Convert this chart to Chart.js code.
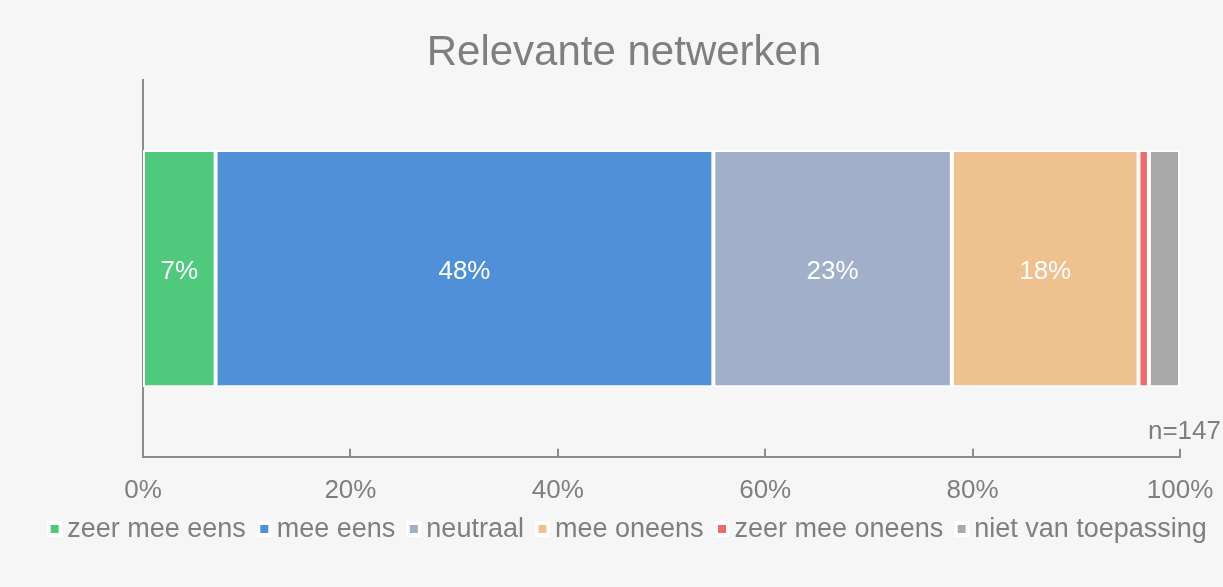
<!DOCTYPE html>
<html>
<head>
<meta charset="utf-8">
<script src="https://cdn.jsdelivr.net/npm/chart.js@4"></script>
<style>
  html, body { margin: 0; padding: 0; background: #f6f6f6; }
  #wrap { width: 1223px; height: 587px; }
</style>
</head>
<body>
<div id="wrap"><canvas id="chart" width="1223" height="587"></canvas></div>
<script>
const categories = ['Relevante netwerken'];
const seriesNames = ['zeer mee eens', 'mee eens', 'neutraal', 'mee oneens', 'zeer mee oneens', 'niet van toepassing'];
const seriesValues = [7, 48, 23, 18, 1, 3];
const seriesColors = ['#4fc97c', '#4f90d8', '#a2afc9', '#efc18e', '#ef6b6b', '#a9a9a9'];
const xTicks = [0, 20, 40, 60, 80, 100];
const sampleSize = 'n=147';

const textColor = '#7f7f7f';
const axisColor = '#8c8c8c';
const fontFamily = '"Liberation Sans", Arial, sans-serif';

// labels in the bars, small inside ticks, n label and the legend row
const extras = {
    id: 'extras',
    beforeDraw(chart) {
        const ctx = chart.ctx;
        ctx.save();
        ctx.fillStyle = '#f6f6f6';
        ctx.fillRect(0, 0, chart.width, chart.height);
        ctx.restore();
    },
    afterDatasetsDraw(chart) {
        const ctx = chart.ctx;
        ctx.save();
        ctx.font = '26px ' + fontFamily;
        ctx.fillStyle = '#ffffff';
        ctx.textAlign = 'center';
        ctx.textBaseline = 'middle';
        chart.data.datasets.forEach((ds, i) => {
            const meta = chart.getDatasetMeta(i);
            meta.data.forEach((bar, j) => {
                const v = ds.data[j];
                if (v < 5) return;
                const p = bar.getProps(['x', 'y', 'base'], true);
                ctx.fillText(v + '%', (p.x + p.base) / 2, p.y + 3);
            });
        });
        ctx.restore();
    },
    afterDraw(chart) {
        const ctx = chart.ctx;
        const xs = chart.scales.x;
        const area = chart.chartArea;
        ctx.save();
        ctx.strokeStyle = axisColor;
        ctx.lineWidth = 2;
        xTicks.slice(1).forEach(t => {
            const px = Math.round(xs.getPixelForValue(t));
            ctx.beginPath();
            ctx.moveTo(px, area.bottom);
            ctx.lineTo(px, area.bottom - 8);
            ctx.stroke();
        });
        ctx.font = '26px ' + fontFamily;
        ctx.fillStyle = textColor;
        ctx.textAlign = 'right';
        ctx.textBaseline = 'middle';
        ctx.fillText(sampleSize, 1221, area.bottom - 25);

        // legend
        ctx.font = '27px ' + fontFamily;
        ctx.textAlign = 'left';
        const cy = 529;
        const widths = seriesNames.map(n => ctx.measureText(n).width);
        const total = widths.reduce((a, w) => a + 20 + w, 0) + 11 * (seriesNames.length - 1);
        let x = 627 - total / 2;
        seriesNames.forEach((name, i) => {
            ctx.fillStyle = '#ffffff';
            ctx.beginPath();
            ctx.roundRect(x, cy - 8, 15, 16, 2);
            ctx.fill();
            ctx.fillStyle = seriesColors[i];
            ctx.fillRect(x + 3.5, cy - 4, 8, 8);
            ctx.fillStyle = textColor;
            ctx.fillText(name, x + 20, cy + 1);
            x += 20 + widths[i] + 11;
        });
        ctx.restore();
    }
};

new Chart(document.getElementById('chart'), {
    type: 'bar',
    data: {
        labels: categories,
        datasets: seriesNames.map((name, i) => ({
            label: name,
            data: [seriesValues[i]],
            backgroundColor: seriesColors[i],
            borderColor: '#ffffff',
            borderWidth: 2,
            borderSkipped: false,
            categoryPercentage: 0.63,
            barPercentage: 1
        }))
    },
    options: {
        indexAxis: 'y',
        responsive: false,
        animation: false,
        layout: { padding: { left: 25, right: 0, top: 0, bottom: 71 } },
        scales: {
            x: {
                stacked: true,
                min: 0,
                max: 100,
                afterBuildTicks(scale) {
                    scale.ticks = xTicks.map(v => ({ value: v }));
                },
                afterFit(scale) {
                    scale.paddingLeft = 0;
                    scale.paddingRight = 43;
                },
                grid: { display: false },
                border: { color: axisColor, width: 2 },
                ticks: {
                    padding: 10,
                    color: textColor,
                    font: { family: fontFamily, size: 26 },
                    callback: v => v + '%'
                }
            },
            y: {
                stacked: true,
                afterFit(scale) {
                    scale.width = 118;
                },
                grid: { display: false },
                border: { color: axisColor, width: 2 },
                ticks: { display: false }
            }
        },
        plugins: {
            title: {
                display: true,
                text: 'Relevante netwerken',
                color: textColor,
                font: { family: fontFamily, size: 42, weight: 'normal' },
                padding: { top: 28, bottom: 2 }
            },
            legend: { display: false },
            tooltip: { enabled: false }
        }
    },
    plugins: [extras]
});
</script>
</body>
</html>
